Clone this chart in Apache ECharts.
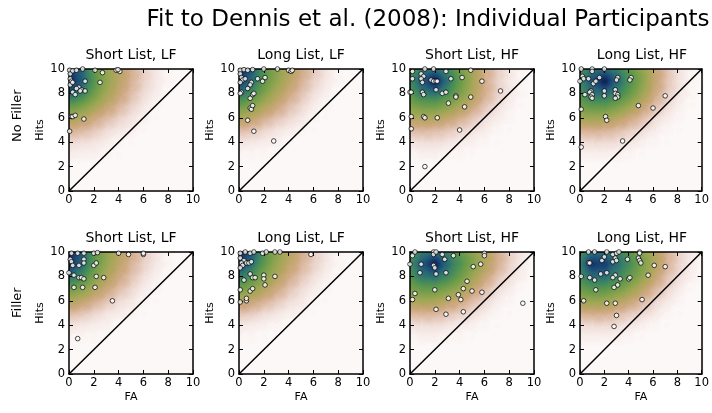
<!DOCTYPE html>
<html>
<head>
<meta charset="utf-8">
<title>Fit to Dennis et al. (2008)</title>
<script src="https://cdn.jsdelivr.net/npm/echarts@6/dist/echarts.min.js"></script>
<style>
html, body { margin: 0; padding: 0; background: #fff; }
#chart { width: 712px; height: 413px; }
</style>
</head>
<body>
<div id="chart"></div>
<script>
// titles
const mainTitle = 'Fit to Dennis et al. (2008): Individual Participants';
const rowNames = ['No Filler', 'Filler'];
const colNames = ['Short List, LF', 'Long List, LF', 'Short List, HF', 'Long List, HF'];

// participants, [FA, Hits]
const nfShortLF = [[0.05,9.9],[0.1,9.6],[0.3,9.85],[0.6,9.9],[1.1,10],[2.1,9.9],[2.7,9.7],[3.8,9.9],[4.1,9.8],[3.95,9.95],[0.1,9.2],[0.2,9.0],[0.1,8.7],[0.3,8.9],[1.3,9.0],[2.5,8.9],[0.8,8.5],[0.6,8.4],[1.0,8.3],[0.9,8.2],[1.3,8.2],[0.3,8.1],[0.5,7.9],[0.2,6.1],[0.3,6.1],[0.5,6.2],[1.2,5.9],[0.05,4.9]];
const nfLongLF = [[0.1,9.9],[0.4,9.95],[0.7,9.9],[1.1,9.95],[2.0,10],[3.1,10],[4.0,9.9],[4.2,9.8],[4.3,9.9],[0.1,9.6],[0.2,9.3],[0.3,9.1],[0.1,8.9],[0.5,9.2],[1.0,8.9],[1.5,9.2],[1.9,9.0],[2.1,9.3],[0.9,8.7],[0.7,8.4],[0.2,8.1],[0.1,8.0],[1.1,7.9],[1.2,8.0],[0.9,7.6],[0.9,6.8],[1.0,6.7],[1.1,7.0],[0.7,5.8],[1.2,4.9],[2.8,4.1]];
const nfShortHF = [[0.2,9.8],[0.9,9.6],[1.1,9.4],[1.2,10],[1.9,10],[2.9,9.8],[4.9,9.9],[0.2,9.2],[0.9,9.2],[1.0,8.9],[1.7,9.1],[1.9,9.0],[2.1,9.0],[2.2,9.0],[3.3,9.2],[4.2,9.3],[5.8,9.0],[0.0,8.1],[0.1,8.1],[1.0,8.1],[1.1,7.9],[2.1,8.3],[2.6,8.0],[2.9,8.1],[3.7,7.8],[3.7,7.7],[4.9,7.7],[7.3,8.2],[3.1,7.2],[4.4,6.9],[0.1,6.1],[1.1,6.1],[1.2,6.0],[2.2,6.0],[0.1,5.1],[4.0,5.0],[1.2,2.0]];
const nfLongHF = [[0.1,10],[1.0,10],[2.0,10],[0.2,9.4],[0.3,9.2],[1.0,9.8],[0.7,9.2],[1.1,8.8],[1.3,9.0],[1.6,9.3],[0.0,9.0],[3.1,9.3],[3.0,9.1],[4.2,9.3],[4.1,9.1],[0.9,8.2],[0.8,8.1],[1.0,7.9],[0.4,7.9],[0.9,7.7],[1.0,7.6],[2.0,8.2],[2.0,7.8],[2.9,8.3],[2.9,8.0],[3.1,7.9],[3.1,7.7],[2.9,7.6],[0.1,6.7],[2.1,6.1],[2.2,5.8],[4.8,7.0],[6.0,6.8],[7.0,7.8],[3.5,4.1],[0.1,3.6]];
const fShortLF = [[0.2,9.9],[0.7,9.9],[1.2,9.9],[2.0,9.9],[2.3,9.95],[4.0,9.9],[4.8,9.8],[6.0,9.8],[6.0,9.9],[0.1,9.4],[0.2,9.2],[0.3,8.9],[0.8,8.9],[1.2,9.4],[1.2,9.1],[2.0,8.9],[2.2,9.1],[0.0,8.3],[0.4,8.1],[0.8,7.9],[1.0,7.9],[1.2,7.8],[2.2,8.0],[2.8,7.9],[0.4,7.1],[1.1,7.1],[2.1,7.1],[3.5,6.0],[0.7,2.9]];
const fLongLF = [[0.1,9.9],[0.5,10],[0.9,9.9],[1.2,10],[1.9,9.9],[2.2,10],[2.9,10],[3.3,10],[5.8,9.8],[0.1,9.5],[0.4,9.3],[0.2,9.1],[0.3,8.9],[0.6,9.1],[0.8,9.1],[1.0,9.2],[0.1,8.7],[0.9,8.2],[1.1,7.9],[1.3,7.9],[2.0,8.1],[2.0,7.8],[2.9,8.0],[0.4,7.7],[2.1,7.3],[0.9,6.8],[1.1,7.0],[0.1,6.9],[0.1,5.9],[0.6,6.0],[0.6,6.2]];
const fShortHF = [[0.2,9.7],[0.4,10],[1.9,10],[1.9,9.8],[2.1,10],[2.6,9.8],[2.8,9.4],[3.5,9.7],[6.0,9.9],[6.0,9.7],[0.0,9.0],[0.9,9.0],[0.8,8.3],[1.9,8.9],[2.0,8.7],[2.1,8.2],[2.9,8.3],[5.1,8.8],[5.7,9.0],[2.0,6.9],[4.6,7.6],[4.3,7.0],[3.9,6.5],[5.0,6.8],[5.8,6.7],[4.1,6.1],[3.1,6.2],[0.4,6.6],[0.2,6.1],[2.1,5.3],[2.9,4.9],[4.3,5.1],[9.1,5.8]];
const fLongHF = [[0.7,10],[1.2,10],[2.2,10],[2.7,9.8],[3.0,9.9],[3.2,10],[4.9,10],[4.9,9.9],[0.7,9.1],[0.8,9.1],[1.8,9.3],[2.0,9.6],[2.7,9.2],[2.9,9.5],[3.0,9.3],[3.9,9.4],[4.8,9.5],[4.9,9.3],[5.0,9.1],[6.1,8.9],[7.0,8.8],[0.1,8.0],[0.8,7.9],[1.2,7.7],[1.7,8.2],[2.2,8.3],[2.9,8.1],[2.7,7.9],[3.3,7.8],[4.0,7.8],[4.1,7.9],[5.6,8.1],[1.3,6.9],[2.8,7.1],[3.1,7.3],[0.3,6.0],[2.2,5.8],[2.9,5.8],[5.1,6.1],[3.0,4.8],[2.8,3.9]];

// model density (0-100), rows Hits=10,9,8,...  columns FA=0..10
const nfShortLFDens = [
  [90,70,46,34,25,17,10,5,2,0,0],
  [100,72,48,34,25,17,10,5,2,0,0],
  [72,58,42,30,22,14,8,4,1,0,0],
  [46,40,31,23,16,10,5,2,0,0,0],
  [30,26,20,15,10,6,3,1,0,0,0],
  [17,15,12,8,5,3,1,0,0,0,0],
  [8,7,6,4,2,1,0,0,0,0,0],
  [4,3,3,2,1,0,0,0,0,0,0]
];
const nfLongLFDens = [
  [100,74,50,36,27,19,12,6,2,0,0],
  [88,66,46,34,25,17,10,5,2,0,0],
  [64,52,38,28,20,13,7,3,1,0,0],
  [44,37,28,21,14,9,4,2,0,0,0],
  [28,24,18,13,9,5,2,1,0,0,0],
  [14,12,9,6,4,2,1,0,0,0,0],
  [6,5,4,3,1,0,0,0,0,0,0],
  [2,2,2,1,0,0,0,0,0,0,0]
];
const nfShortHFDens = [
  [48,62,66,56,42,30,19,11,5,2,0],
  [55,74,100,64,44,30,18,10,5,2,0],
  [48,60,62,52,40,28,18,10,5,2,0],
  [38,42,42,37,29,21,13,7,3,1,0],
  [26,28,27,23,18,12,7,4,2,0,0],
  [14,15,14,12,9,6,4,2,1,0,0],
  [6,7,7,6,4,3,2,1,0,0,0],
  [2,3,3,2,2,1,0,0,0,0,0]
];
const nfLongHFDens = [
  [52,64,68,60,46,34,22,13,6,2,0],
  [58,76,100,68,50,36,23,13,6,2,0],
  [52,63,66,56,44,32,20,11,5,2,0],
  [42,46,46,40,32,23,14,8,3,1,0],
  [30,31,30,26,20,14,8,4,2,0,0],
  [16,17,16,14,10,7,4,2,1,0,0],
  [7,8,8,7,5,3,2,1,0,0,0],
  [3,3,3,3,2,1,0,0,0,0,0]
];
const fShortLFDens = [
  [100,74,48,35,26,18,11,6,2,0,0],
  [90,68,46,33,24,16,10,5,2,0,0],
  [66,54,39,28,20,13,7,3,1,0,0],
  [44,37,28,21,14,9,4,2,0,0,0],
  [28,24,18,13,8,5,2,1,0,0,0],
  [14,12,9,6,4,2,1,0,0,0,0],
  [6,5,4,3,1,0,0,0,0,0,0],
  [2,2,2,1,0,0,0,0,0,0,0]
];
const fLongLFDens = [
  [100,76,50,36,26,18,11,6,2,0,0],
  [86,64,45,33,24,16,10,5,2,0,0],
  [62,50,37,27,19,12,7,3,1,0,0],
  [42,35,27,20,13,8,4,2,0,0,0],
  [26,22,17,12,8,5,2,1,0,0,0],
  [12,11,8,6,3,2,1,0,0,0,0],
  [5,4,3,2,1,0,0,0,0,0,0],
  [2,2,1,1,0,0,0,0,0,0,0]
];
const fShortHFDens = [
  [48,62,66,58,46,36,27,18,10,5,1],
  [55,74,100,66,50,38,28,18,10,4,1],
  [50,62,64,55,43,32,22,13,7,3,0],
  [40,44,44,39,32,23,15,8,4,1,0],
  [28,30,29,25,20,14,9,4,2,0,0],
  [15,16,16,13,10,7,4,2,1,0,0],
  [6,7,7,6,4,3,2,1,0,0,0],
  [2,3,3,2,2,1,0,0,0,0,0]
];
const fLongHFDens = [
  [54,66,68,60,48,37,27,17,9,4,1],
  [60,90,85,66,52,40,28,17,9,4,1],
  [54,66,66,56,45,34,23,13,7,3,0],
  [44,48,47,41,34,25,16,9,4,1,0],
  [32,33,32,28,22,15,9,5,2,0,0],
  [17,18,18,15,11,8,5,2,1,0,0],
  [7,8,8,7,5,3,2,1,0,0,0],
  [3,3,3,3,2,1,0,0,0,0,0]
];

const points = [nfShortLF, nfLongLF, nfShortHF, nfLongHF, fShortLF, fLongLF, fShortHF, fLongHF];
const densities = [nfShortLFDens, nfLongLFDens, nfShortHFDens, nfLongHFDens, fShortLFDens, fLongLFDens, fShortHFDens, fLongHFDens];

// gist_earth_r like ramp (stops every 0.05 of the blurred intensity)
const earthColors = [
  '#fcf8f7', '#efdcd6', '#dfc0ad', '#cfa983', '#b9a565', '#9fa655', '#82a14d',
  '#66994b', '#4a8e57', '#377e68', '#2a6a75', '#1f5479', '#173f70', '#10295a',
  '#0a1844', '#060c30', '#040620', '#040620', '#040620', '#040620', '#040620'
];

const font = 'DejaVu Sans';
const lefts = [69, 239, 410, 580];
const tops = [69, 252];
const W = 124, H = 122;

echarts.registerMap('unitSquare', {
  type: 'FeatureCollection',
  features: [{
    type: 'Feature',
    properties: { name: 'sq' },
    geometry: { type: 'Polygon', coordinates: [[[0, 0], [10, 0], [10, 10], [0, 10], [0, 0]]] }
  }]
});

const chart = echarts.init(document.getElementById('chart'));

const grid = [], geo = [], xAxis = [], yAxis = [], series = [], graphic = [];
const heatIdx = [];

graphic.push({
  type: 'text', x: 428, y: 20,
  style: { text: mainTitle, font: '23px "DejaVu Sans"', fill: '#000', textAlign: 'center', textVerticalAlign: 'middle' }
});

for (let r = 0; r < 2; r++) {
  graphic.push({
    type: 'text', x: 18, y: r === 0 ? 142 : 318, rotation: Math.PI / 2,
    style: { text: rowNames[r], font: '13px "DejaVu Sans"', fill: '#000', textAlign: 'left', textVerticalAlign: 'middle' }
  });
  for (let c = 0; c < 4; c++) {
    const i = r * 4 + c;
    const left = lefts[c], top = tops[r];
    grid.push({ left: left, top: top, width: W, height: H });
    geo.push({
      map: 'unitSquare', roam: false, silent: true, aspectScale: 1,
      left: left, top: top, width: W, height: H,
      itemStyle: { areaColor: earthColors[0], borderWidth: 0 },
      emphasis: { disabled: true }, select: { disabled: true },
      label: { show: false }
    });
    graphic.push({
      type: 'text', x: left + W / 2, y: r === 0 ? 55 : 238.5,
      style: { text: colNames[c], font: '14px "DejaVu Sans"', fill: '#000', textAlign: 'center', textVerticalAlign: 'middle' }
    });

    const line = { onZero: false, lineStyle: { color: '#000', width: 1.5 } };
    const tick = { inside: true, length: 4, lineStyle: { color: '#000', width: 1 } };
    xAxis.push({
      type: 'value', gridIndex: i, position: 'bottom', min: 0, max: 10, interval: 2, z: 4,
      axisLine: line, axisTick: tick, splitLine: { show: false },
      axisLabel: { color: '#000', fontFamily: font, fontSize: 11.5, margin: 3 },
      name: r === 1 ? 'FA' : '', nameLocation: 'middle', nameGap: 18,
      nameTextStyle: { color: '#000', fontFamily: font, fontSize: 11 }
    });
    xAxis.push({
      type: 'value', gridIndex: i, position: 'top', min: 0, max: 10, interval: 2, z: 4,
      axisLine: line, axisTick: tick, splitLine: { show: false }, axisLabel: { show: false }
    });
    yAxis.push({
      type: 'value', gridIndex: i, position: 'left', min: 0, max: 10, interval: 2, z: 4,
      axisLine: line, axisTick: tick, splitLine: { show: false },
      axisLabel: { color: '#000', fontFamily: font, fontSize: 11.5, margin: 4 },
      name: 'Hits', nameLocation: 'middle', nameGap: 23,
      nameTextStyle: { color: '#000', fontFamily: font, fontSize: 11 }
    });
    yAxis.push({
      type: 'value', gridIndex: i, position: 'right', min: 0, max: 10, interval: 2, z: 4,
      axisLine: line, axisTick: tick, splitLine: { show: false }, axisLabel: { show: false }
    });

    // model density
    const heat = [];
    densities[i].forEach(function (row, k) {
      row.forEach(function (v, fa) {
        if (v > 0) heat.push([fa, 10 - k, v]);
      });
    });
    heatIdx.push(series.length);
    series.push({
      type: 'heatmap', coordinateSystem: 'geo', geoIndex: i, data: heat,
      pointSize: 7, blurSize: 11, minOpacity: 1, maxOpacity: 1, z: 1, silent: true
    });
    // chance line
    series.push({
      type: 'line', xAxisIndex: 2 * i, yAxisIndex: 2 * i, data: [[0, 0], [10, 10]],
      symbol: 'none', lineStyle: { color: '#000', width: 1.5 }, z: 3, silent: true
    });
    // participants
    series.push({
      type: 'scatter', xAxisIndex: 2 * i, yAxisIndex: 2 * i, data: points[i],
      symbol: 'circle', symbolSize: 4.6, clip: false, z: 5, silent: true,
      itemStyle: { color: '#fff', borderColor: '#000', borderWidth: 0.9 }
    });
  }
}

chart.setOption({
  animation: false,
  backgroundColor: '#fff',
  textStyle: { fontFamily: font },
  grid: grid,
  geo: geo,
  xAxis: xAxis,
  yAxis: yAxis,
  visualMap: {
    type: 'continuous', show: false, min: 0, max: 100,
    seriesIndex: heatIdx,
    inRange: { color: earthColors }
  },
  graphic: graphic,
  series: series
});
</script>
</body>
</html>
